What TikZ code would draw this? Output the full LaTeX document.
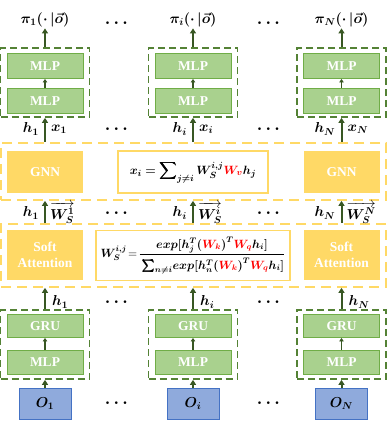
\documentclass[tikz,border=0pt]{standalone}
\usepackage{fontspec}
\setmainfont{Liberation Serif}
\usepackage{amsmath,bm}
\usetikzlibrary{arrows.meta}

\definecolor{mlpfill}{HTML}{A9D18E}
\definecolor{mlpline}{HTML}{70AD47}
\definecolor{grpgreen}{HTML}{548235}
\definecolor{arrgreen}{HTML}{385723}
\definecolor{attfill}{HTML}{FFD966}
\definecolor{obsfill}{HTML}{8FAADC}
\definecolor{obsline}{HTML}{4472C4}
\definecolor{wred}{HTML}{FF0000}

\begin{document}
\begin{tikzpicture}[
  x=1pt, y=-1pt,
  net/.style={draw=mlpline, fill=mlpfill, line width=0.9pt, minimum width=76pt,
    minimum height=25pt, inner sep=0pt, text=white, font=\bfseries\fontsize{13.5}{15}\selectfont},
  attn/.style={fill=attfill, minimum width=76pt, inner sep=0pt, text=white,
    align=center, font=\bfseries\fontsize{13.5}{16}\selectfont},
  eqbox/.style={draw=attfill, fill=white, line width=1.2pt, inner sep=0pt},
  obs/.style={draw=obsline, fill=obsfill, line width=0.9pt, minimum width=52pt,
    minimum height=31pt, inner sep=0pt, font=\fontsize{14}{16}\selectfont},
  grpG/.style={draw=grpgreen, dash pattern=on 7pt off 4pt, line width=1.7pt, inner sep=0pt},
  grpY/.style={draw=attfill, dash pattern=on 10pt off 6pt, line width=1.7pt, inner sep=0pt},
  flow/.style={-{Triangle[length=5pt,width=6pt]}, draw=arrgreen, line width=2pt},
  sflow/.style={-{Triangle[length=3.5pt,width=4.5pt]}, draw=arrgreen, line width=1.3pt},
  lbl/.style={font=\fontsize{14}{16}\selectfont, inner sep=1pt},
  dots/.style={font=\fontsize{16}{18}\selectfont}
]
\useasboundingbox (0,0) rectangle (387,423);

% ---- yellow groups: GNN and Soft Attention ----
\node[grpY, minimum width=385pt, minimum height=57pt] (gnnGrp) at (193.5,171.5) {};
\node[grpY, minimum width=385pt, minimum height=63pt] (attGrp) at (193.5,255.5) {};

\node[attn, minimum height=42pt] (gnnA) at (45,172) {GNN};
\node[attn, minimum height=42pt] (gnnC) at (341.5,172) {GNN};
\node[eqbox, minimum width=150pt, minimum height=42pt] (gnnEq) at (193,172)
  {\fontsize{13}{15}\selectfont
   $\displaystyle\bm{x_i = \sum\nolimits_{j\neq i} W_S^{i,j}}\textcolor{wred}{\bm{W_v}}\bm{h_j}$};

\node[attn, minimum height=50pt] (attA) at (45,255) {Soft\\Attention};
\node[attn, minimum height=50pt] (attC) at (341.5,255) {Soft\\Attention};
\node[eqbox, minimum width=194pt, minimum height=50pt] (attEq) at (193,255.5)
  {\fontsize{11.5}{13}\selectfont
   $\bm{W_S^{i,j}}\!=\!\dfrac{\bm{exp[h_j^T(}\textcolor{wred}{\bm{W_k}}\bm{)^T}
     \textcolor{wred}{\bm{W_q}}\bm{h_i]}\rule[-4pt]{0pt}{10pt}}
    {\rule{0pt}{13pt}\bm{\sum\nolimits_{n\neq i}\!exp[h_n^T(}\textcolor{wred}{\bm{W_k}}\bm{)^T}
     \textcolor{wred}{\bm{W_q}}\bm{h_i]}}$};

% ---- columns 1, i, N ----
\foreach \cx/\s/\id in {45/1/a, 193/i/b, 341.5/N/c} {
  % policy head
  \node[grpG, minimum width=89pt, minimum height=69pt] (headGrp\id) at (\cx,82.5) {};
  \node[net] (mlpTop\id) at (\cx,66) {MLP};
  \node[net] (mlpBot\id) at (\cx,101) {MLP};
  \node[lbl] (pi\id) at (\cx,20) {$\bm{\pi_{\s}(\cdot\,|\vec{o})}$};
  \draw[sflow] (mlpBot\id) -- (mlpTop\id);
  \draw[flow] (headGrp\id.north) -- (pi\id.south);

  % encoder
  \node[grpG, minimum width=89pt, minimum height=69pt] (encGrp\id) at (\cx,344.5) {};
  \node[net, minimum height=23pt] (gru\id) at (\cx,326) {GRU};
  \node[net, minimum height=24pt] (mlpEnc\id) at (\cx,362) {MLP};
  \node[obs] (obs\id) at (\cx,403.5) {$\bm{O_{\s}}$};
  \draw[sflow] (mlpEnc\id) -- (gru\id);
  \draw[flow] (obs\id) -- (encGrp\id.south);

  % connections through the yellow groups
  \draw[flow] (encGrp\id.north) -- (attGrp.south -| encGrp\id.north);
  \draw[flow] (attGrp.north -| encGrp\id.north) -- (gnnGrp.south -| encGrp\id.north);
  \draw[flow] (gnnGrp.north -| headGrp\id.south) -- (headGrp\id.south);

  % labels
  \node[lbl, anchor=west] (hEnc\id) at (\cx+6,302) {$\bm{h_{\s}}$};
  \node[lbl, anchor=east] (hAtt\id) at (\cx-5,213) {$\bm{h_{\s}}$};
  \node[lbl, anchor=west, inner sep=0pt] (wAtt\id) at (\cx+5,213)
    {$\overrightarrow{\bm{W_S^{\s}}\rule{0pt}{11.5pt}}$};
  \node[lbl, anchor=east] (hGnn\id) at (\cx-5,129) {$\bm{h_{\s}}$};
  \node[lbl, anchor=west] (xGnn\id) at (\cx+5,129) {$\bm{x_{\s}}$};
}

% ---- dots between columns ----
\foreach \dx in {118,270} {
  \foreach \dy in {23,129,213,302,403} {
    \node[dots] at (\dx,\dy) {$\bm{\cdots}$};
  }
}
\end{tikzpicture}
\end{document}
